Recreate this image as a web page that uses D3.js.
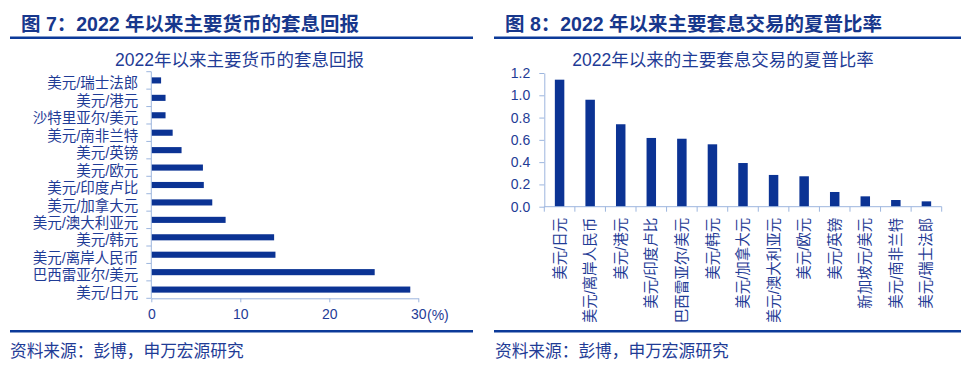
<!DOCTYPE html>
<html><head><meta charset="utf-8">
<script src="https://cdn.jsdelivr.net/npm/d3@7"></script>
<style>
body{margin:0;background:#fff;}
svg{display:block;font-family:"Liberation Sans","Noto Sans CJK SC",sans-serif;}
</style></head>
<body>
<svg id="c" width="961" height="373"></svg>
<script>
// ---- data ----
const leftCats = ['美元/日元','巴西雷亚尔/美元','美元/离岸人民币','美元/韩元','美元/澳大利亚元','美元/加拿大元','美元/印度卢比','美元/欧元','美元/英镑','美元/南非兰特','沙特里亚尔/美元','美元/港元','美元/瑞士法郎'];
const leftVals = [29.1, 25.1, 13.95, 13.8, 8.35, 6.85, 5.9, 5.8, 3.4, 2.4, 1.6, 1.6, 1.1];
const leftTicks = [0, 10, 20, 30];
const rightCats = ['美元/日元','美元/离岸人民币','美元/港元','美元/印度卢比','巴西雷亚尔/美元','美元/韩元','美元/加拿大元','美元/澳大利亚元','美元/欧元','美元/英镑','新加坡元/美元','美元/南非兰特','美元/瑞士法郎'];
const rightVals = [1.14, 0.96, 0.74, 0.617, 0.61, 0.56, 0.392, 0.285, 0.273, 0.132, 0.093, 0.06, 0.048];
const rightTicks = [0, 0.2, 0.4, 0.6, 0.8, 1.0, 1.2];

const titleL = '图 7：2022 年以来主要货币的套息回报';
const titleR = '图 8：2022 年以来主要套息交易的夏普比率';
const chartTitleL = '2022年以来主要货币的套息回报';
const chartTitleR = '2022年以来的主要套息交易的夏普比率';
const source = '资料来源：彭博，申万宏源研究';

// ---- style ----
const BAR = '#0b3394', TXT = '#1f3c96', HEAD = '#17378c', RULE = '#0c3a99', AX = '#9db6de';
const svg = d3.select('#c');
svg.append('rect').attr('width',961).attr('height',373).attr('fill','#fff');

// headers and rules
function header(x, t){
  svg.append('text').attr('x',x).attr('y',31).attr('font-size',19.5).attr('font-weight','bold')
    .attr('fill',HEAD).text(t);
}
header(21, titleL); header(505, titleR);
svg.append('rect').attr('x',10).attr('y',36.5).attr('width',463).attr('height',2.5).attr('fill',RULE);
svg.append('rect').attr('x',494).attr('y',36.5).attr('width',467).attr('height',2.5).attr('fill',RULE);
svg.append('rect').attr('x',10).attr('y',330).attr('width',463).attr('height',2.5).attr('fill',RULE);
svg.append('rect').attr('x',494).attr('y',330).attr('width',467).attr('height',2.5).attr('fill',RULE);
svg.append('text').attr('x',10).attr('y',357).attr('font-size',16.7).attr('fill',TXT).text(source);
svg.append('text').attr('x',495).attr('y',357).attr('font-size',16.7).attr('fill',TXT).text(source);

// ---- left chart ----
svg.append('text').attr('x',239.5).attr('y',66).attr('text-anchor','middle').attr('font-size',17.5)
  .attr('fill',TXT).text(chartTitleL);
const xL = d3.scaleLinear().domain([0,30]).range([151.3,418.3]);
const yL = d3.scaleBand().domain(leftCats).range([298.3,71.7]).paddingInner(0.65).paddingOuter(0.325);
const gL = svg.append('g');
gL.selectAll('rect.b').data(leftCats).join('rect').attr('class','b')
  .attr('x',xL(0)).attr('y',d=>yL(d)).attr('height',yL.bandwidth())
  .attr('width',(d,i)=>xL(leftVals[i])-xL(0)).attr('fill',BAR);
// y axis (category)
const yLb = d3.scaleBand().domain(leftCats).range([298.3,71.7]);
const axL = gL.append('g').attr('transform',`translate(${xL(0)},0)`);
axL.append('line').attr('y1',71.7).attr('y2',298.3).attr('stroke',AX);
axL.selectAll('line.t').data(leftCats.concat(['_'])).join('line').attr('class','t')
  .attr('x1',-5).attr('x2',0)
  .attr('y1',(d,i)=> i<leftCats.length ? yLb(d)+yLb.bandwidth() : 71.7)
  .attr('y2',(d,i)=> i<leftCats.length ? yLb(d)+yLb.bandwidth() : 71.7).attr('stroke',AX);
axL.selectAll('text').data(leftCats).join('text').attr('x',-13)
  .attr('y',d=>yLb(d)+yLb.bandwidth()/2+3).attr('dy','0.35em').attr('text-anchor','end')
  .attr('font-size',14.5).attr('fill',TXT).text(d=>d);
// x axis
const xAxL = gL.append('g').attr('transform','translate(0,298.3)')
  .call(d3.axisBottom(xL).tickValues(leftTicks).tickSize(4).tickSizeOuter(0).tickPadding(7));
xAxL.select('.domain').attr('stroke',AX);
xAxL.selectAll('.tick line').attr('stroke',AX);
xAxL.selectAll('.tick text').attr('font-size',14).attr('fill',TXT).attr('font-family','inherit');
gL.append('text').attr('x',427).attr('y',319.5).attr('font-size',14).attr('fill',TXT).text('(%)');

// ---- right chart ----
svg.append('text').attr('x',723).attr('y',66).attr('text-anchor','middle').attr('font-size',17.5)
  .attr('fill',TXT).text(chartTitleR);
const xR = d3.scaleBand().domain(rightCats).range([544.3,941.7]).paddingInner(0.69).paddingOuter(0.345);
const xRb = d3.scaleBand().domain(rightCats).range([544.3,941.7]);
const yR = d3.scaleLinear().domain([0,1.2]).range([206.7,73]);
const gR = svg.append('g');
gR.selectAll('rect.b').data(rightCats).join('rect').attr('class','b')
  .attr('x',d=>xR(d)).attr('width',xR.bandwidth())
  .attr('y',(d,i)=>yR(rightVals[i])).attr('height',(d,i)=>yR(0)-yR(rightVals[i])).attr('fill',BAR);
const yAxR = gR.append('g').attr('transform','translate(544.3,0)')
  .call(d3.axisLeft(yR).tickValues(rightTicks).tickFormat(d3.format('.1f')).tickSize(5).tickSizeOuter(0).tickPadding(9));
yAxR.select('.domain').attr('stroke',AX);
yAxR.selectAll('.tick line').attr('stroke',AX);
yAxR.selectAll('.tick text').attr('font-size',14).attr('fill',TXT).attr('font-family','inherit');
// x axis
gR.append('line').attr('x1',544.3).attr('x2',941.7).attr('y1',yR(0)).attr('y2',yR(0)).attr('stroke',AX);
gR.selectAll('line.t').data(rightCats.concat(['_'])).join('line').attr('class','t')
  .attr('x1',(d,i)=> i<rightCats.length ? xRb(d) : 941.7)
  .attr('x2',(d,i)=> i<rightCats.length ? xRb(d) : 941.7)
  .attr('y1',yR(0)).attr('y2',yR(0)+5).attr('stroke',AX);
svg.append('clipPath').attr('id','clipR').append('rect').attr('x',490).attr('y',200).attr('width',471).attr('height',122);
const labR = gR.append('g').attr('clip-path','url(#clipR)');
labR.selectAll('text').data(rightCats).join('text')
  .attr('transform',d=>`translate(${xRb(d)+xRb.bandwidth()/2},${yR(0)+11}) rotate(-90)`)
  .attr('dy','0.35em').attr('text-anchor','end').attr('font-size',14.5).attr('fill',TXT).text(d=>d);
</script>
</body></html>
